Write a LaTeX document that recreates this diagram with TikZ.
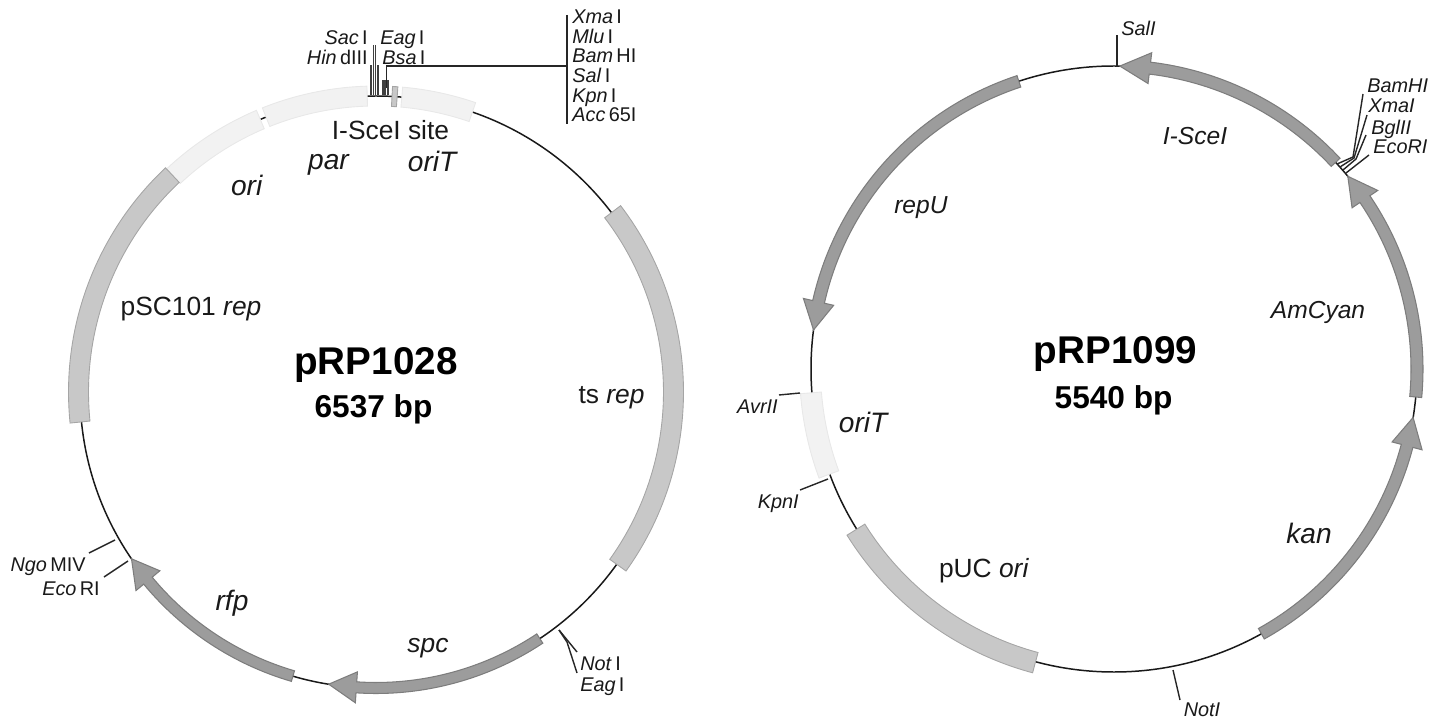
\documentclass[tikz,border=0pt]{standalone}
\usepackage{fontspec}
\setmainfont{Liberation Sans}
\usepackage{xcolor}
\usetikzlibrary{positioning}
\definecolor{genegray}{RGB}{156,156,156}
\definecolor{geneedge}{RGB}{125,125,125}
\definecolor{repgray}{RGB}{200,200,200}
\definecolor{repedge}{RGB}{165,165,165}
\definecolor{palegray}{RGB}{242,242,242}
\definecolor{paleedge}{RGB}{232,232,232}
\tikzset{
  backbone/.style={line width=0.85pt, draw=black!90},
  gene/.style={draw=geneedge, fill=genegray, line width=0.6pt, line join=miter},
  repband/.style={draw=repedge, fill=repgray, line width=0.5pt},
  paleband/.style={draw=paleedge, fill=palegray, line width=0.5pt},
  tick/.style={line width=0.8pt, draw=black!85},
  finetick/.style={line width=0.7pt, draw=black!75},
  site/.style={font=\fontsize{11.3}{13}\selectfont, inner sep=0pt, text=black!90},
  feature/.style={font=\fontsize{16}{18}\selectfont, inner sep=0pt, text=black!90},
  plainfeature/.style={font=\fontsize{15}{17}\selectfont, inner sep=0pt, text=black!90},
  geneitalic/.style={font=\fontsize{14}{16}\selectfont, inner sep=0pt, text=black!90},
  plasmidname/.style={font=\fontsize{22}{24}\selectfont\bfseries, inner sep=0pt, anchor=base},
  plasmidsize/.style={font=\fontsize{18}{20}\selectfont\bfseries, inner sep=0pt, anchor=base}
}
\newcommand{\bandarc}[3][paleband]{
  \draw[#1] (#2:\pr-\bw) arc[start angle=#2, end angle=#3, radius=\pr-\bw]
    -- (#3:\pr+\bw) arc[start angle=#3, end angle=#2, radius=\pr+\bw] -- cycle;
}
\newcommand{\genearc}[3]{
  \draw[gene] (#1:\pr-\sw) arc[start angle=#1, end angle=#2, radius=\pr-\sw]
    -- (#2:\pr-\hw) -- (#3:\pr) -- (#2:\pr+\hw) -- (#2:\pr+\sw)
    arc[start angle=#2, end angle=#1, radius=\pr+\sw] -- cycle;
}
\begin{document}
\begin{tikzpicture}[x=0.02cm, y=0.02cm]
  \useasboundingbox (0,0) rectangle (1443,-719);

  \begin{scope}[shift={(376,-392)}]
    \def\pr{296}\def\bw{10}\def\sw{5.5}\def\hw{15.5}
    \draw[backbone] (0,0) circle[radius=\pr];
    \genearc{253.7}{219.6}{214.3}
    \genearc{303.6}{266.2}{260.8}
    \bandarc{113}{133.2}
    \bandarc{91.7}{111.8}
    \bandarc{71}{85}
    \bandarc[repband]{85.9}{86.9}
    \def\pr{297.5}
    \bandarc[repband]{133.2}{185.8}
    \bandarc[repband]{-35.6}{37.3}
  \end{scope}

  \foreach \tx/\ty in {371/65, 373.5/45, 375.5/45, 378/65, 383/80, 385/80, 388/80}
    \draw[finetick] (\tx,-95.5) -- (\tx,-\ty);

  \node[site, anchor=base east] (sac)  at (368,-45) {\textit{Sac}\,I};
  \node[site, anchor=base east] (hind) at (368,-65) {\textit{Hin}\,dIII};
  \node[site, anchor=base west] (eag)  at (380,-45) {\textit{Eag}\,I};
  \node[site, anchor=base west] (bsa)  at (382,-65) {\textit{Bsa}\,I};

  \coordinate (bsaend) at (386.7,-88);
  \coordinate (bsaknee) at (386.7,-66);
  \coordinate (stemtop) at (567,-15);
  \coordinate (stemmid) at (567,-66);
  \coordinate (stembot) at (567,-124);
  \draw[tick] (bsaend) -- (bsaknee) -- (stemmid);
  \draw[tick] (stemtop) -- (stembot);

  \node[site, anchor=base west] (xma) at (572,-24)  {\textit{Xma}\,I};
  \node[site, anchor=base west] (mlu) at (572,-44)  {\textit{Mlu}\,I};
  \node[site, anchor=base west] (bam) at (572,-63)  {\textit{Bam}\,HI};
  \node[site, anchor=base west] (sal) at (572,-83)  {\textit{Sal}\,I};
  \node[site, anchor=base west] (kpn) at (572,-103) {\textit{Kpn}\,I};
  \node[site, anchor=base west] (acc) at (572,-122) {\textit{Acc}\,65I};

  \node[site, anchor=base east] (ngo) at (86,-571)  {\textit{Ngo}\,MIV};
  \node[site, anchor=base east] (eco) at (100,-595) {\textit{Eco}\,RI};
  \node[site, anchor=base west] (noti) at (580,-670) {\textit{Not}\,I};
  \node[site, anchor=base west] (eagb) at (580,-691) {\textit{Eag}\,I};

  \coordinate (ngoring) at (115,-540);
  \coordinate (ngoend) at (89,-553);
  \coordinate (ecoring) at (128,-561);
  \coordinate (ecoend) at (104,-577);
  \coordinate (notring) at (559,-630);
  \coordinate (notend) at (577,-652);
  \coordinate (eagknee) at (567,-642);
  \coordinate (eagend) at (577,-673);
  \draw[tick] (ngoring) -- (ngoend);
  \draw[tick] (ecoring) -- (ecoend);
  \draw[tick] (notring) -- (notend);
  \draw[tick] (notring) -- (eagknee) -- (eagend);

  \node[plainfeature] (scei) at (390.5,-130.5) {I-SceI site};
  \node[feature] (par)  at (329,-165) {\textit{par}};
  \node[feature] (orit) at (433,-161) {\textit{oriT}};
  \node[feature] (ori)  at (247,-185) {\textit{ori}};
  \node[plainfeature] (psc) at (191,-309) {pSC101 \textit{rep}};
  \node[plainfeature] (tsrep) at (611.5,-398) {ts \textit{rep}};
  \node[feature] (rfp)  at (232,-603) {\textit{rfp}};
  \node[plainfeature] (spc) at (428,-648) {\textit{spc}};
  \node[plasmidname] (rp28) at (376,-375) {pRP1028};
  \node[plasmidsize] (bp28) at (373.5,-418) {6537 bp};

  \begin{scope}[shift={(1114,-369)}]
    \def\pr{303}\def\sw{6}\def\hw{15.5}\def\bw{10.5}
    \draw[backbone] (0,0) circle[radius=\pr];
    \genearc{43}{83.2}{88.9}
    \genearc{108.3}{167.2}{172.6}
    \genearc{-5.3}{34.1}{39.5}
    \genearc{-60.9}{-14.7}{-9.2}
    \def\pr{304}
    \bandarc{184.5}{200.3}
    \bandarc[repband]{211.9}{255}
  \end{scope}

  \coordinate (salring) at (1117,-67);
  \coordinate (salend) at (1117,-35);
  \coordinate (avrring) at (800,-393);
  \coordinate (avrend) at (779,-395);
  \coordinate (kpnring) at (828,-479);
  \coordinate (kpnend) at (800,-490);
  \coordinate (notbring) at (1173,-670);
  \coordinate (notbend) at (1180,-700);
  \draw[tick] (salring) -- (salend);
  \draw[tick] (avrring) -- (avrend);
  \draw[tick] (kpnring) -- (kpnend);
  \draw[tick] (notbring) -- (notbend);

  \coordinate (bamring) at (1337,-164);
  \coordinate (bamknee) at (1353,-157);
  \coordinate (bamend) at (1363,-94);
  \coordinate (xmaring) at (1340,-167);
  \coordinate (xmaknee) at (1354,-158);
  \coordinate (xmaend) at (1367,-115);
  \coordinate (bglring) at (1343,-170);
  \coordinate (bglknee) at (1356,-159);
  \coordinate (bglend) at (1366,-135);
  \coordinate (ecbring) at (1346,-173);
  \coordinate (ecbend) at (1369,-155);
  \draw[tick] (bamring) -- (bamknee) -- (bamend);
  \draw[tick] (xmaring) -- (xmaknee) -- (xmaend);
  \draw[tick] (bglring) -- (bglknee) -- (bglend);
  \draw[tick] (ecbring) -- (ecbend);

  \node[site, anchor=base west] (salb) at (1121,-36)  {\textit{SalI}};
  \node[site, anchor=base west] (bamb) at (1367,-93)  {\textit{BamHI}};
  \node[site, anchor=base west] (xmab) at (1368,-113) {\textit{XmaI}};
  \node[site, anchor=base west] (bglb) at (1371,-135) {\textit{BglII}};
  \node[site, anchor=base west] (ecob) at (1373,-154) {\textit{EcoRI}};
  \node[site, anchor=base east] (avrb) at (778,-413)  {\textit{AvrII}};
  \node[site, anchor=base east] (kpnb) at (799,-508)  {\textit{KpnI}};
  \node[site, anchor=base] (notb) at (1202,-716) {\textit{NotI}};

  \node[geneitalic] (sceb) at (1195,-136) {\textit{I-SceI}};
  \node[geneitalic] (repu) at (921,-208) {\textit{repU}};
  \node[geneitalic] (amc) at (1318,-312) {\textit{AmCyan}};
  \node[feature] (kan) at (1309,-533) {\textit{kan}};
  \node[plainfeature] (puc) at (984,-571) {pUC \textit{ori}};
  \node[feature] (oritb) at (864,-422) {\textit{oriT}};
  \node[plasmidname] (rp99) at (1115.5,-363) {pRP1099};
  \node[plasmidsize] (bp99) at (1113.6,-408) {5540 bp};
\end{tikzpicture}
\end{document}
